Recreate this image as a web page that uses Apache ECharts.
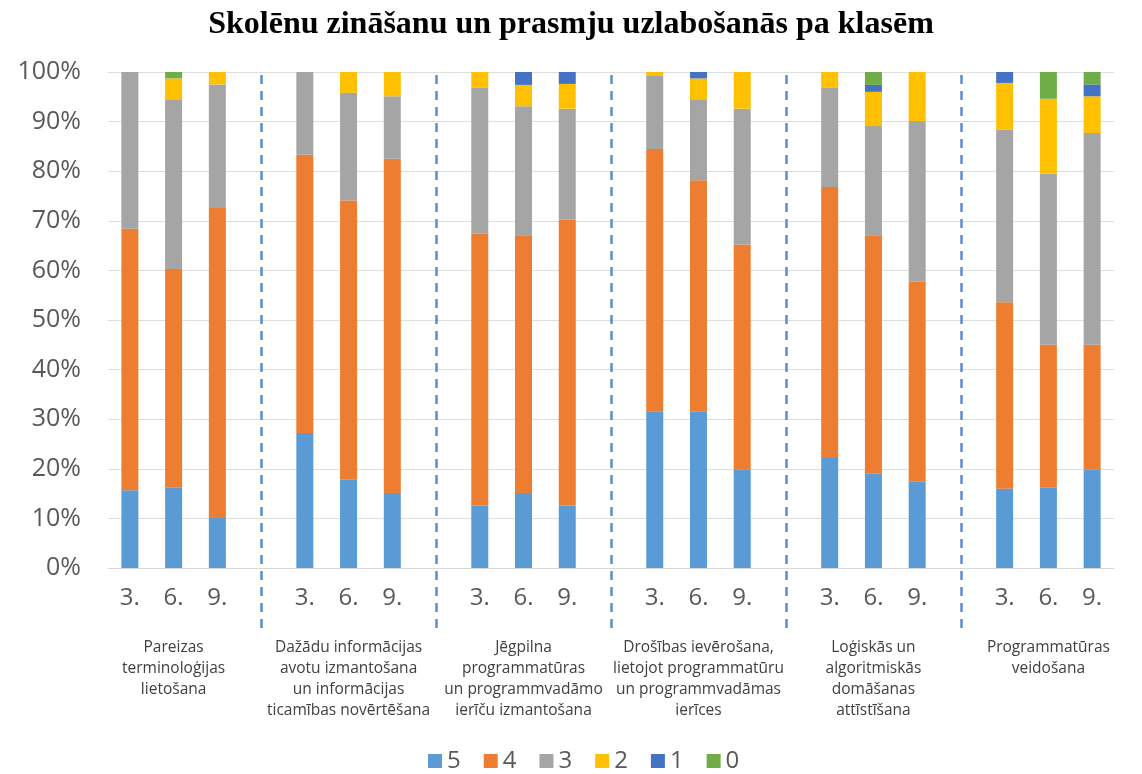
<!DOCTYPE html>
<html>
<head>
<meta charset="utf-8">
<script src="https://cdn.jsdelivr.net/npm/echarts@6/dist/echarts.min.js"></script>
<style>
  html, body { margin: 0; padding: 0; background: #fff; }
  #chart { width: 1142px; height: 774px; }
</style>
</head>
<body>
<div id="chart"></div>
<script>
  // skill areas (one block of three grades each)
  const groups = [
    "Pareizas\nterminoloģijas\nlietošana",
    "Dažādu informācijas\navotu izmantošana\nun informācijas\nticamības novērtēšana",
    "Jēgpilna\nprogrammatūras\nun programmvadāmo\nierīču izmantošana",
    "Drošības ievērošana,\nlietojot programmatūru\nun programmvadāmas\nierīces",
    "Loģiskās un\nalgoritmiskās\ndomāšanas\nattīstīšana",
    "Programmatūras\nveidošana"
  ];
  const grades = ["3.", "6.", "9."];
  const yTicks = [0, 10, 20, 30, 40, 50, 60, 70, 80, 90, 100];

  // share of pupils (%) per mark, 18 bars = 6 groups x 3 grades
  const s5 = [15.7, 16.3, 10.1, 27.2, 17.8, 15.1, 12.6, 15.1, 12.6, 31.6, 31.6, 19.9, 22.2, 19.0, 17.5, 16.0, 16.3, 19.9];
  const s4 = [52.7, 44.0, 62.5, 56.1, 56.3, 67.4, 54.8, 52.0, 57.6, 52.9, 46.6, 45.3, 54.6, 48.1, 40.2, 37.6, 28.7, 25.1];
  const s3 = [31.6, 34.2, 24.9, 16.7, 21.7, 12.6, 29.4, 26.0, 22.4, 14.7, 16.3, 27.4, 20.0, 22.0, 32.4, 34.8, 34.5, 42.7];
  const s2 = [0, 4.2, 2.5, 0, 4.2, 4.9, 3.2, 4.3, 5.0, 0.8, 4.2, 7.4, 3.2, 6.9, 9.9, 9.4, 15.1, 7.4];
  const s1 = [0, 0, 0, 0, 0, 0, 0, 2.6, 2.4, 0, 1.3, 0, 0, 1.4, 0, 2.2, 0, 2.4];
  const s0 = [0, 1.3, 0, 0, 0, 0, 0, 0, 0, 0, 0, 0, 0, 2.6, 0, 0, 5.4, 2.5];

  const marks = ["5", "4", "3", "2", "1", "0"];
  const markData = [s5, s4, s3, s2, s1, s0];
  const colors = ["#5B9BD5", "#ED7D31", "#A5A5A5", "#FFC000", "#4472C4", "#70AD47"];

  // category slots: three grades per group, one empty slot between groups
  let cats = [], catLabel = [], catGroup = [], catBar = [], sepCats = [];
  groups.forEach(function (g, gi) {
    grades.forEach(function (gr, k) {
      cats.push("g" + gi + "_" + k);
      catLabel.push(gr);
      catGroup.push(k === 1 ? gi : -1);
      catBar.push(gi * 3 + k);
    });
    if (gi < groups.length - 1) {
      cats.push("sep" + gi);
      catLabel.push("");
      catGroup.push(-1);
      catBar.push(-1);
      sepCats.push("sep" + gi);
    }
  });

  function slotData(arr) {
    return catBar.map(function (b) { return b < 0 ? null : arr[b]; });
  }

  const font = "'Open Sans', 'Noto Sans', sans-serif";
  let chart = echarts.init(document.getElementById("chart"));

  let series = marks.map(function (m, i) {
    return {
      name: m,
      type: "bar",
      stack: "total",
      barWidth: 17,
      itemStyle: { color: colors[i] },
      data: slotData(markData[i])
    };
  });
  // dashed separators between the groups, reaching below the axis labels
  series.push({
    name: "sep",
    type: "line",
    xAxisIndex: 1,
    yAxisIndex: 1,
    silent: true,
    data: [],
    markLine: {
      silent: true,
      symbol: ["none", "none"],
      label: { show: false },
      lineStyle: { type: [9, 7], color: "#5A8FCB", width: 2.5 },
      data: sepCats.map(function (c) { return { xAxis: c }; })
    }
  });

  let option = {
    animation: false,
    title: {
      text: "Skolēnu zināšanu un prasmju uzlabošanās pa klasēm",
      left: "center",
      top: 4,
      textStyle: {
        fontFamily: "'Liberation Serif', serif",
        fontWeight: "bold",
        fontSize: 32,
        color: "#000"
      }
    },
    legend: {
      data: marks,
      left: 423,
      top: 744,
      icon: "rect",
      itemWidth: 14,
      itemHeight: 14,
      itemGap: 23,
      textStyle: { fontFamily: font, fontSize: 24, color: "#595959" }
    },
    grid: [
      { left: 108, right: 28, top: 72, bottom: 206 },
      { left: 108, right: 28, top: 68, bottom: 146 }
    ],
    xAxis: [
      {
        type: "category",
        data: cats,
        axisTick: { show: false },
        axisLine: { lineStyle: { color: "#D9D9D9", width: 1 } },
        axisLabel: {
          interval: 0,
          margin: 16,
          formatter: function (v, idx) {
            if (!catLabel[idx]) return "";
            let s = "{n|" + catLabel[idx] + "}";
            if (catGroup[idx] >= 0) {
              s += "\n{s| }";
              groups[catGroup[idx]].split("\n").forEach(function (line) {
                s += "\n{g|" + line + "}";
              });
            }
            return s;
          },
          rich: {
            n: { fontFamily: font, fontSize: 24, color: "#595959", lineHeight: 28 },
            s: { fontSize: 10, lineHeight: 25 },
            g: { fontFamily: font, fontSize: 15.5, color: "#404040", lineHeight: 21 }
          }
        }
      },
      {
        type: "category",
        gridIndex: 1,
        data: cats,
        show: false
      }
    ],
    yAxis: [
      {
        type: "value",
        min: yTicks[0],
        max: yTicks[yTicks.length - 1],
        interval: 10,
        axisLine: { show: false },
        axisTick: { show: false },
        splitLine: { lineStyle: { color: "#DEDEDE", width: 1 } },
        axisLabel: {
          margin: 27,
          formatter: "{value}%",
          fontFamily: font,
          fontSize: 25,
          color: "#595959"
        }
      },
      {
        type: "value",
        gridIndex: 1,
        min: 0,
        max: 1,
        show: false
      }
    ],
    series: series
  };

  chart.setOption(option);
</script>
</body>
</html>
